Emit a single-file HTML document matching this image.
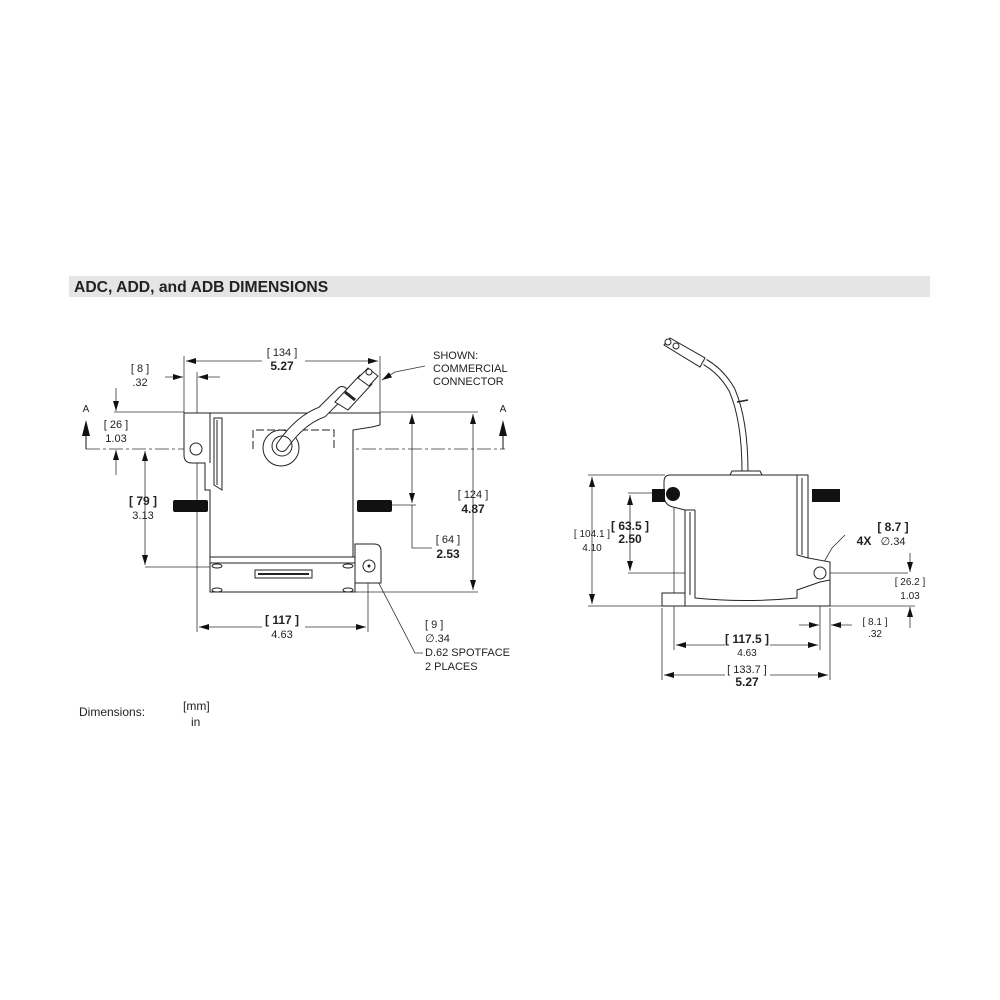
<!DOCTYPE html>
<html><head><meta charset="utf-8"><style>
html,body{margin:0;padding:0;background:#fff;width:1000px;height:1000px;overflow:hidden}
svg{display:block}
text{font-family:"Liberation Sans",sans-serif;fill:#222}
</style></head><body>
<svg width="1000" height="1000" viewBox="0 0 1000 1000" xmlns="http://www.w3.org/2000/svg">
<defs>
<marker id="ar" viewBox="0 0 10 6" refX="10" refY="3" markerWidth="10" markerHeight="6" orient="auto-start-reverse" markerUnits="userSpaceOnUse"><path d="M0,0L10,3L0,6z" fill="#111"/></marker>
</defs>
<rect x="69" y="276" width="861" height="21" fill="#e5e5e5"/>
<text x="74" y="292" font-size="15.7" font-weight="bold" fill="#000">ADC, ADD, and ADB DIMENSIONS</text>
<text x="79" y="716" font-size="12">Dimensions:</text>
<text x="183" y="710" font-size="12">[mm]</text>
<text x="191" y="726" font-size="12">in</text>

<g stroke="#333" stroke-width="0.8" fill="none">
<line x1="184" y1="356" x2="184" y2="413"/>
<line x1="380" y1="356" x2="380" y2="413"/>
<line x1="186" y1="361" x2="262" y2="361" marker-start="url(#ar)"/>
<line x1="305" y1="361" x2="378" y2="361" marker-end="url(#ar)"/>
<line x1="165" y1="377" x2="183" y2="377" marker-end="url(#ar)"/>
<line x1="220" y1="377" x2="198" y2="377" marker-end="url(#ar)"/>
<line x1="197" y1="372" x2="197" y2="632"/>
<line x1="114" y1="412" x2="184" y2="412"/>
<line x1="380" y1="412" x2="478" y2="412"/>
<line x1="116" y1="388" x2="116" y2="411" marker-end="url(#ar)"/>
<line x1="116" y1="475" x2="116" y2="450" marker-end="url(#ar)"/>
<line x1="86" y1="449" x2="505" y2="449" stroke-dasharray="14,3,3,3"/>
<line x1="145" y1="451" x2="145" y2="565" marker-start="url(#ar)" marker-end="url(#ar)"/>
<line x1="145" y1="567" x2="362" y2="567"/>
<line x1="473" y1="414" x2="473" y2="590" marker-start="url(#ar)" marker-end="url(#ar)"/>
<line x1="355" y1="592" x2="478" y2="592"/>
<line x1="412" y1="414" x2="412" y2="503" marker-start="url(#ar)" marker-end="url(#ar)"/>
<line x1="392" y1="505" x2="416" y2="505"/>
<polyline points="412,505 412,548 432,548"/>
<line x1="368" y1="572" x2="368" y2="632"/>
<line x1="199" y1="627" x2="262" y2="627" marker-start="url(#ar)"/>
<line x1="305" y1="627" x2="366" y2="627" marker-end="url(#ar)"/>
<polyline points="372,570 415,653 423,653"/>
<polyline points="425,366 395,372 382,380" marker-end="url(#ar)"/>
</g>
<g fill="#111">
<path d="M82,436 L86,420 L90,436z"/><line x1="86" y1="436" x2="86" y2="449" stroke="#111"/>
<path d="M499,436 L503,420 L507,436z"/><line x1="503" y1="436" x2="503" y2="449" stroke="#111"/>
</g>

<g stroke="#222" stroke-width="1" fill="#fff">
<path d="M184,413 L380,413 L380,425 L372,427 L353,430 L353,557 L210,557 L210,490 L205,490 L205,463 L192,463 Q184,463 184,455z"/>
<line x1="210" y1="413" x2="210" y2="463"/>
<path d="M214,418 L222,418 L222,490 L214,485z" fill="none"/>
<line x1="217" y1="420" x2="217" y2="485"/>
<circle cx="196" cy="449" r="6"/>
<rect x="210" y="557" width="145" height="35"/>
<line x1="210" y1="563" x2="355" y2="563"/>
<rect x="255" y="570" width="57" height="8"/>
<line x1="258" y1="574" x2="309" y2="574" stroke-width="2"/>
<ellipse cx="217" cy="566" rx="5" ry="2"/><ellipse cx="348" cy="566" rx="5" ry="2"/>
<ellipse cx="217" cy="590" rx="5" ry="2"/><ellipse cx="348" cy="590" rx="5" ry="2"/>
<path d="M355,544 L374,544 Q381,544 381,551 L381,583 L355,583z"/>
<circle cx="369" cy="566" r="6"/>
<circle cx="369" cy="566" r="1" fill="#222"/>
<path d="M253,449 L253,430 L334,430 L334,449" fill="none" stroke-dasharray="8,3"/>
<circle cx="281" cy="448" r="18"/>
</g>
<path d="M282,446 Q300,420 322,412 L342,392" fill="none" stroke="#222" stroke-width="12" stroke-linecap="round"/>
<path d="M282,446 Q300,420 322,412 L342,392" fill="none" stroke="#fff" stroke-width="10" stroke-linecap="round"/>
<g stroke="#222" stroke-width="1" fill="#fff">
<circle cx="282" cy="446" r="10" fill="none"/>
<path d="M335,402 L360,375 L372,384 L348,410z"/>
<line x1="345" y1="392" x2="355" y2="400" stroke-width="3"/>
<path d="M358,378 L368,368 L378,376 L369,386z"/>
<circle cx="369" cy="372" r="3"/>
</g>
<rect x="173" y="500" width="35" height="12" rx="2" fill="#111"/>
<rect x="357" y="500" width="35" height="12" rx="2" fill="#111"/>

<g font-size="11" text-anchor="middle">
<text x="282" y="356">[ 134 ]</text>
<text x="282" y="370" font-weight="bold" font-size="12">5.27</text>
<text x="140" y="372">[ 8 ]</text>
<text x="140" y="386">.32</text>
<text x="86" y="412" font-size="10">A</text>
<text x="503" y="412" font-size="10">A</text>
<text x="116" y="428">[ 26 ]</text>
<text x="116" y="442">1.03</text>
<text x="143" y="505" font-weight="bold" font-size="12">[ 79 ]</text>
<text x="143" y="519">3.13</text>
<text x="473" y="498">[ 124 ]</text>
<text x="473" y="513" font-weight="bold" font-size="12">4.87</text>
<text x="448" y="543">[ 64 ]</text>
<text x="448" y="558" font-weight="bold" font-size="12">2.53</text>
<text x="282" y="624" font-weight="bold" font-size="12">[ 117 ]</text>
<text x="282" y="638">4.63</text>
</g>
<g font-size="11">
<text x="433" y="359">SHOWN:</text>
<text x="433" y="372">COMMERCIAL</text>
<text x="433" y="385">CONNECTOR</text>
<text x="425" y="628">[ 9 ]</text>
<text x="425" y="642">∅.34</text>
<text x="425" y="656">D.62 SPOTFACE</text>
<text x="425" y="670">2 PLACES</text>
</g>

<g stroke="#333" stroke-width="0.8" fill="none">
<line x1="588" y1="475" x2="665" y2="475"/>
<line x1="588" y1="606" x2="665" y2="606"/>
<line x1="592" y1="477" x2="592" y2="604" marker-start="url(#ar)" marker-end="url(#ar)"/>
<line x1="628" y1="493" x2="660" y2="493"/>
<line x1="628" y1="573" x2="908" y2="573"/>
<line x1="630" y1="495" x2="630" y2="571" marker-start="url(#ar)" marker-end="url(#ar)"/>
<line x1="830" y1="606" x2="915" y2="606"/>
<line x1="910" y1="553" x2="910" y2="572" marker-end="url(#ar)"/>
<line x1="910" y1="628" x2="910" y2="607" marker-end="url(#ar)"/>
<line x1="799" y1="625" x2="819" y2="625" marker-end="url(#ar)"/>
<line x1="852" y1="625" x2="831" y2="625" marker-end="url(#ar)"/>
<line x1="674" y1="497" x2="674" y2="650"/>
<line x1="820" y1="580" x2="820" y2="650"/>
<line x1="676" y1="645" x2="725" y2="645" marker-start="url(#ar)"/>
<line x1="770" y1="645" x2="818" y2="645" marker-end="url(#ar)"/>
<line x1="662" y1="608" x2="662" y2="680"/>
<line x1="830" y1="608" x2="830" y2="680"/>
<line x1="664" y1="675" x2="725" y2="675" marker-start="url(#ar)"/>
<line x1="770" y1="675" x2="828" y2="675" marker-end="url(#ar)"/>
<polyline points="845,535 832,548 824,562"/>
</g>
<path d="M745,472 Q745,420 732,390 Q722,372 705,362" fill="none" stroke-width="7" stroke="#222"/>
<path d="M745,472 Q745,420 732,390 Q722,372 705,362" fill="none" stroke-width="5" stroke="#fff"/>
<line x1="737" y1="402" x2="748" y2="400" stroke="#222" stroke-width="1.5"/>
<g stroke="#222" stroke-width="1" fill="#fff">
<path d="M664,345 L670,338 L705,358 L700,367z"/>
<circle cx="668" cy="342" r="3"/><circle cx="676" cy="346" r="3"/>
<path d="M730,475 L732,471 L760,471 L762,475z"/>
<path d="M670,475 L808,475 L808,558 L830,562 L830,606 L662,606 L662,593 L685,593 L685,510 L673,507 Q664,505 664,495 L664,482 Q664,475 670,475z"/>
<path d="M695,510 L695,598 Q745,603 797,598 L797,590 L820,582 L830,580" fill="none"/>
<line x1="685" y1="510" x2="695" y2="510"/>
<line x1="690" y1="512" x2="690" y2="595"/>
<path d="M797,475 L797,555 L808,558" fill="none"/>
<line x1="802" y1="478" x2="802" y2="555"/>
<line x1="685" y1="593" x2="685" y2="606"/>
<circle cx="820" cy="573" r="6"/>
</g>
<rect x="652" y="489" width="13" height="13" fill="#111"/>
<circle cx="673" cy="494" r="7" fill="#111"/>
<rect x="812" y="489" width="28" height="13" fill="#111"/>

<g font-size="11" text-anchor="middle">
<text x="592" y="537" font-size="10">[ 104.1 ]</text>
<text x="592" y="551" font-size="10">4.10</text>
<text x="630" y="530" font-weight="bold" font-size="12">[ 63.5 ]</text>
<text x="630" y="543" font-weight="bold" font-size="12">2.50</text>
<text x="893" y="531" font-weight="bold" font-size="12">[ 8.7 ]</text>
<text x="893" y="545">∅.34</text>
<text x="864" y="545" font-weight="bold" font-size="12">4X</text>
<text x="910" y="585" font-size="10">[ 26.2 ]</text>
<text x="910" y="599" font-size="10">1.03</text>
<text x="875" y="625" font-size="10">[ 8.1 ]</text>
<text x="875" y="637" font-size="10">.32</text>
<text x="747" y="643" font-weight="bold" font-size="12">[ 117.5 ]</text>
<text x="747" y="656" font-size="10">4.63</text>
<text x="747" y="673" font-size="11">[ 133.7 ]</text>
<text x="747" y="686" font-weight="bold" font-size="12">5.27</text>
</g>
</svg>
</body></html>
